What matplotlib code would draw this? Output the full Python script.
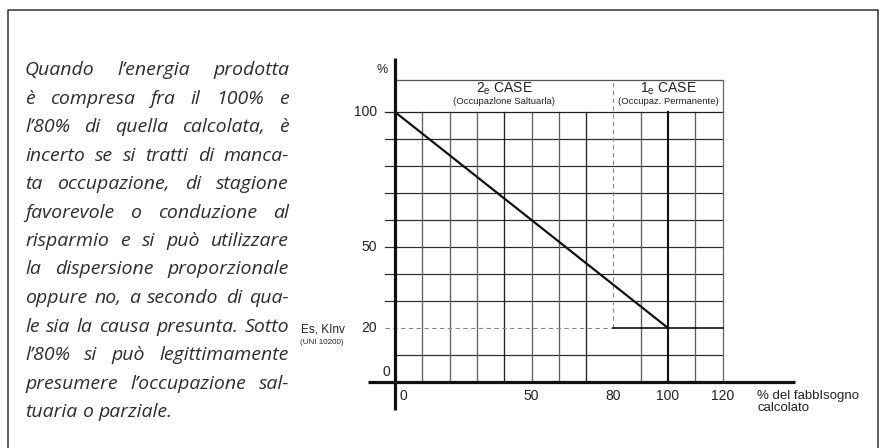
import matplotlib
matplotlib.use("Agg")
import matplotlib.pyplot as plt
from matplotlib.lines import Line2D

# ---------------- data ----------------
paragraph = [
    "Quando l’energia prodotta",
    "è compresa fra il 100% e",
    "l’80% di quella calcolata, è",
    "incerto se si tratti di manca-",
    "ta occupazione, di stagione",
    "favorevole o conduzione al",
    "risparmio e si può utilizzare",
    "la dispersione proporzionale",
    "oppure no, a secondo di qua-",
    "le sia la causa presunta. Sotto",
    "l’80% si può legittimamente",
    "presumere l’occupazione sal-",
    "tuaria o parziale.",
]
grid_x = [10, 20, 30, 40, 50, 60, 70, 90, 110]
grid_y = [10, 30, 40, 50, 60, 70, 80, 90]
xtick_vals = [0, 50, 80, 100, 120]
xtick_labels = ["0", "50", "80", "100", "120"]
ytick_vals = [100, 50, 20]
ytick_labels = ["100", "50", "20"]
line_x = [0, 100]
line_y = [100, 20]
plateau_x = [80, 120]
plateau_y = [20, 20]
threshold_x = 80
threshold_y = 20
full_x = 100
x_max = 120
y_top = 100
header_top = 112
zone_labels = [("2", "CASE", "(Occupazlone Saltuarla)", 40),
               ("1", "CASE", "(Occupaz. Permanente)", 100)]

# ---------------- figure ----------------
W, H = 884, 448
fig = plt.figure(figsize=(W / 100, H / 100), dpi=100)
fig.patch.set_facecolor("white")

x0_px, y0_px = 395.0, 382.0
kx, ky = 2.73, 2.70
ax = fig.add_axes([0, 0, 1, 1])
ax.set_xlim(-x0_px / kx, (W - x0_px) / kx)
ax.set_ylim(-(H - y0_px) / ky, y0_px / ky)
ax.axis("off")

def px(xp, yp):
    """figure pixel (top-left origin) -> data"""
    return (xp - x0_px) / kx, (y0_px - yp) / ky

# outer frame (open at bottom)
fig.add_artist(Line2D([8 / W, 8 / W, 878 / W, 878 / W],
                      [0, 1 - 10 / H, 1 - 10 / H, 0],
                      color="#333333", lw=1.1))

# grid
xl, _ = px(385, 0)
for gy in grid_y:
    start = 0 if gy == 10 else xl
    ax.plot([start, x_max], [gy, gy], color="#2a2a2a", lw=0.85)
for gx in grid_x:
    c = "#222222" if gx in (40, 70) else "#606060"
    ax.plot([gx, gx], [0, y_top], color=c, lw=0.95)
# header box
ax.plot([xl, x_max], [y_top, y_top], color="#222222", lw=0.9)
ax.plot([0, x_max], [header_top, header_top], color="#555555", lw=0.9)
ax.plot([x_max, x_max], [0, header_top], color="#666666", lw=0.9)
# dashed threshold lines
ax.plot([threshold_x, threshold_x], [threshold_y, header_top], color="#888888",
        lw=0.8, ls=(0, (4, 3)))
ax.plot([xl, threshold_x], [threshold_y, threshold_y], color="#888888",
        lw=0.8, ls=(0, (4, 3)))
ax.plot([full_x, full_x], [0, y_top], color="#111111", lw=1.5)
ax.plot(line_x, line_y, color="#111111", lw=1.6, solid_capstyle="butt")
ax.plot(plateau_x, plateau_y, color="#111111", lw=1.2)

# axes
ax_l, _ = px(368, 0)
ax_r, _ = px(795, 0)
_, ax_b = px(0, 410)
_, ax_t = px(0, 58)
ax.plot([ax_l, ax_r], [0, 0], color="#111111", lw=2.3, solid_capstyle="butt")
ax.plot([0, 0], [ax_b, ax_t], color="#111111", lw=2.3, solid_capstyle="butt")

SANS = "Liberation Sans"
TC = "#222222"
for v, lab in zip(xtick_vals, xtick_labels):
    if v == 0:
        ax.text(px(400, 0)[0], px(0, 396)[1], lab, ha="left", va="center",
                fontsize=10, family=SANS, color=TC)
    else:
        ax.text(v, px(0, 396)[1], lab, ha="center", va="center",
                fontsize=10, family=SANS, color=TC)
for v, lab in zip(ytick_vals, ytick_labels):
    ax.text(px(377, 0)[0], v, lab, ha="right", va="center",
            fontsize=10, family=SANS, color=TC)
ax.text(*px(390, 372), "0", ha="right", va="center", fontsize=10,
        family=SANS, color=TC)
ax.text(*px(382, 70), "%", ha="center", va="center", fontsize=9,
        family=SANS, color=TC)
ax.text(*px(345, 330), "Es, KInv", ha="right", va="center", fontsize=8.5,
        family=SANS, color=TC)
ax.text(*px(300, 343), "(UNI 10200)", ha="left", va="center", fontsize=5.8,
        family=SANS, color=TC)
ax.text(*px(757, 396), "% del fabbIsogno", ha="left", va="center",
        fontsize=9.5, family=SANS, color=TC)
ax.text(*px(757, 408), "calcolato", ha="left", va="center",
        fontsize=9.5, family=SANS, color=TC)

for num, word, sub, cx in zone_labels:
    ax.text(cx, px(0, 89)[1], num + r"$_{\mathregular{e}}$ " + word,
            ha="center", va="center", fontsize=10, family=SANS, color=TC)
    ax.text(cx, px(0, 102)[1], sub, ha="center", va="center",
            fontsize=6.8, family=SANS, color=TC)

# justified italic paragraph
renderer = fig.canvas.get_renderer()
PFONT = "Open Sans"
left, right = 25.0, 289.0
base0, step = 75.0, 28.5
fs = 14.0

def measure(s, size):
    t = fig.text(0, 0, s, fontsize=size, family=PFONT, style="italic")
    w = t.get_window_extent(renderer).width
    t.remove()
    return w

space_w = measure("a a", fs) - measure("aa", fs)
maxnat = max(sum(measure(w, fs) for w in ln.split()) + space_w * 0.85 * (len(ln.split()) - 1)
             for ln in paragraph[:-1])
if maxnat > (right - left):
    fs = fs * (right - left) / maxnat

for i, ln in enumerate(paragraph):
    yb = 1 - (base0 + i * step) / H
    words = ln.split()
    widths = [measure(w, fs) for w in words]
    if i == len(paragraph) - 1 or len(words) == 1:
        gap = measure("a a", fs) - measure("aa", fs)
    else:
        gap = (right - left - sum(widths)) / (len(words) - 1)
    x = left
    for w, wd in zip(words, widths):
        fig.text(x / W, yb, w, fontsize=fs, family=PFONT, style="italic",
                 ha="left", va="baseline", color="#2e2e2e")
        x += wd + gap

fig.savefig("out.png", dpi=100, facecolor="white")
